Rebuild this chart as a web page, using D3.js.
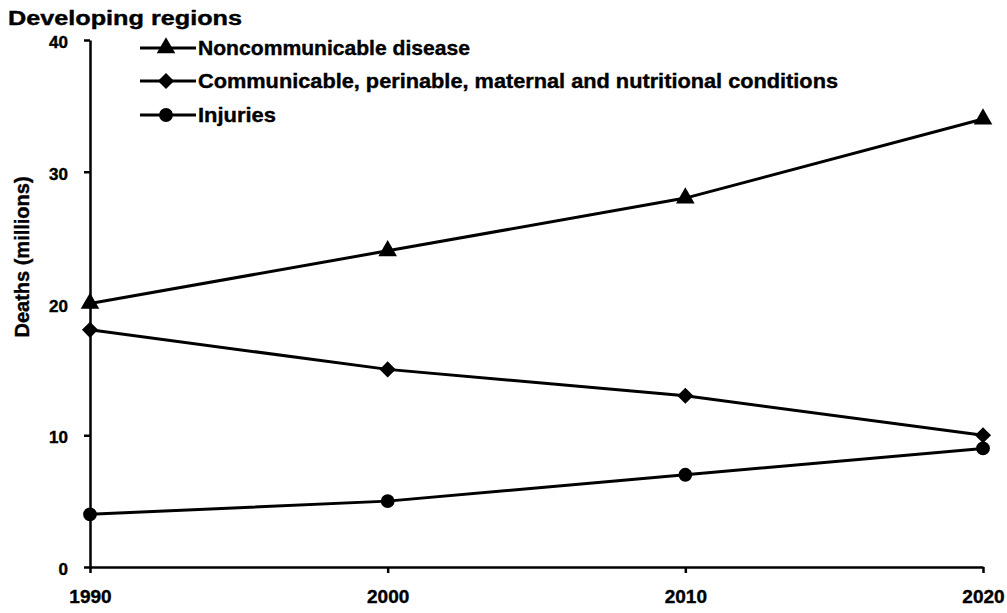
<!DOCTYPE html>
<html><head><meta charset="utf-8">
<script src="https://cdn.jsdelivr.net/npm/d3@7"></script>
<style>body{margin:0;background:#fff}svg{display:block}text{font-family:"Liberation Sans",Arial,sans-serif;font-weight:bold;fill:#000;stroke:#000;stroke-width:0.4px}</style>
</head><body>
<svg id="c" width="1007" height="613"></svg>
<script>
const years = [1990, 2000, 2010, 2020];
const yTicks = [0, 10, 20, 30, 40];
const seriesNames = ["Noncommunicable disease", "Communicable, perinable, maternal and nutritional conditions", "Injuries"];
const nonCommunicable = [20, 24, 28, 34];
const communicable = [18, 15, 13, 10];
const injuries = [4, 5, 7, 9];

const svg = d3.select("#c");
const x = d3.scaleLinear().domain([1990, 2020]).range([90, 983]);
const y = d3.scaleLinear().domain([0, 40]).range([567, 40]);

svg.append("text").attr("x", 8).attr("y", 25).style("font-size", "20px")
  .attr("textLength", 234).attr("lengthAdjust", "spacingAndGlyphs").text("Developing regions");

const ya = svg.append("g").attr("transform", "translate(90,0)")
  .call(d3.axisLeft(y).tickValues(yTicks).tickSize(6).tickSizeOuter(0).tickFormat(d3.format("d")));
ya.select(".domain").attr("stroke", "#000").attr("stroke-width", 2.5);
ya.selectAll(".tick line").attr("stroke", "#000").attr("stroke-width", 2.5);
ya.selectAll(".tick text").attr("x", -22).attr("dy", "0.45em").style("font-size", "17px").style("font-family", "'Liberation Sans',Arial,sans-serif").style("font-weight", "bold");

const xa = svg.append("g").attr("transform", "translate(0,567)")
  .call(d3.axisBottom(x).tickValues(years).tickSize(6).tickSizeOuter(0).tickFormat(d3.format("d")));
xa.select(".domain").attr("stroke", "#000").attr("stroke-width", 2.5);
xa.selectAll(".tick line").attr("stroke", "#000").attr("stroke-width", 2.5);
xa.selectAll(".tick text").attr("y", 23).style("font-size", "19px").style("font-family", "'Liberation Sans',Arial,sans-serif").style("font-weight", "bold");

svg.append("text").attr("transform", "translate(29,257) rotate(-90)").attr("text-anchor", "middle")
  .style("font-size", "20px").text("Deaths (millions)");

const data = [nonCommunicable, communicable, injuries];
const line = d3.line().x((d, i) => x(years[i])).y(d => y(d));
const symbolFor = [
  {type: d3.symbolTriangle, size: 150, rot: 0},
  {type: d3.symbolSquare, size: 130, rot: 45},
  {type: d3.symbolCircle, size: 150, rot: 0}
];
function marker(sel, k) {
  const s = symbolFor[k];
  return sel.attr("d", d3.symbol().type(s.type).size(s.size)).attr("fill", "#000");
}
data.forEach((vals, k) => {
  svg.append("path").attr("d", line(vals)).attr("fill", "none").attr("stroke", "#000").attr("stroke-width", 3);
  svg.selectAll(null).data(vals).enter().append("path")
    .attr("transform", (d, i) => `translate(${x(years[i])},${y(d)}) rotate(${symbolFor[k].rot})`)
    .call(marker, k);
});

const legY = [48, 81, 115];
const legLen = [272, 640, 78];
seriesNames.forEach((n, k) => {
  const g = svg.append("g").attr("transform", `translate(0,${legY[k]})`);
  g.append("line").attr("x1", 140).attr("x2", 196).attr("y1", 0).attr("y2", 0).attr("stroke", "#000").attr("stroke-width", 3);
  g.append("path").attr("transform", `translate(166,0) rotate(${symbolFor[k].rot})`).call(marker, k);
  g.append("text").attr("x", 198).attr("y", 7).style("font-size", "21px")
    .attr("textLength", legLen[k]).attr("lengthAdjust", "spacingAndGlyphs").text(n);
});
</script>
</body></html>
